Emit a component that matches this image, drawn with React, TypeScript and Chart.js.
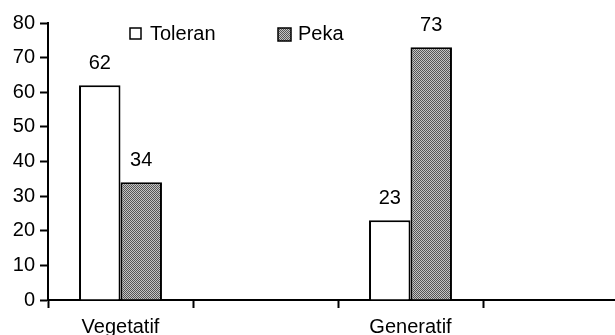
import React, { useEffect, useRef } from "react";
import { Chart, registerables } from "chart.js";

Chart.register(...registerables);

const categories = ["Vegetatif", "", "Generatif", ""];
const seriesNames = ["Toleran", "Peka"];
const toleranValues = [62, null, 23, null];
const pekaValues = [34, null, 73, null];
const yTicks = [0, 10, 20, 30, 40, 50, 60, 70, 80];

const FONT = "'Liberation Sans', Arial, sans-serif";
const FSIZE = 20;

function makePattern(): CanvasPattern | string {
  const c = document.createElement("canvas");
  c.width = 2;
  c.height = 2;
  const g = c.getContext("2d");
  if (!g) return "#888";
  g.fillStyle = "#c4c4c4";
  g.fillRect(0, 0, 2, 2);
  g.fillStyle = "#555555";
  g.fillRect(0, 0, 1, 1);
  g.fillRect(1, 1, 1, 1);
  const p = g.createPattern(c, "repeat");
  return p || "#888";
}

const valueLabels = {
  id: "valueLabels",
  afterDatasetsDraw(chart: any) {
    const ctx = chart.ctx;
    ctx.save();
    ctx.fillStyle = "#000";
    ctx.font = `${FSIZE}px ${FONT}`;
    ctx.textAlign = "center";
    ctx.textBaseline = "alphabetic";
    chart.data.datasets.forEach((ds: any, i: number) => {
      const meta = chart.getDatasetMeta(i);
      meta.data.forEach((el: any, j: number) => {
        const v = ds.data[j];
        if (v === null || v === undefined) return;
        ctx.fillText(String(v), el.x, el.y - 16);
      });
    });
    ctx.restore();
  },
};

const customLegend = {
  id: "customLegend",
  afterDraw(chart: any) {
    const ctx = chart.ctx;
    const items = [
      { box: [130, 28, 11, 11], textX: 150 },
      { box: [278, 28, 13, 13], textX: 298 },
    ];
    ctx.save();
    ctx.font = `${FSIZE}px ${FONT}`;
    ctx.textBaseline = "alphabetic";
    ctx.textAlign = "left";
    chart.data.datasets.forEach((ds: any, i: number) => {
      const it = items[i];
      if (!it) return;
      const [x, y, w, h] = it.box;
      ctx.fillStyle = ds.backgroundColor;
      ctx.fillRect(x, y, w, h);
      ctx.strokeStyle = "#000";
      ctx.lineWidth = 1.5;
      ctx.strokeRect(x, y, w, h);
      ctx.fillStyle = "#000";
      ctx.fillText(ds.label, it.textX, 40);
    });
    ctx.restore();
  },
};

export default function App() {
  const ref = useRef<HTMLCanvasElement | null>(null);

  useEffect(() => {
    const canvas = ref.current;
    if (!canvas) return;
    const pattern = makePattern();
    const chart = new Chart(canvas, {
      type: "bar",
      data: {
        labels: categories,
        datasets: [
          {
            label: seriesNames[0],
            data: toleranValues,
            backgroundColor: "#ffffff",
            borderColor: "#000000",
            borderWidth: 2,
            categoryPercentage: 0.572,
            barPercentage: 1,
          },
          {
            label: seriesNames[1],
            data: pekaValues,
            backgroundColor: pattern as any,
            borderColor: "#000000",
            borderWidth: 2,
            categoryPercentage: 0.572,
            barPercentage: 1,
          },
        ],
      },
      options: {
        responsive: false,
        animation: false,
        devicePixelRatio: 1,
        layout: { padding: { top: 23, left: 0, right: 0, bottom: 0 } },
        plugins: {
          legend: { display: false },
          tooltip: { enabled: false },
        },
        scales: {
          x: {
            grid: {
              offset: true,
              drawOnChartArea: false,
              drawTicks: true,
              tickLength: 8,
              tickWidth: 2,
              tickColor: "#000",
            },
            border: { display: true, color: "#000", width: 2 },
            ticks: {
              color: "#000",
              font: { family: FONT, size: FSIZE },
              padding: 7,
              maxRotation: 0,
              autoSkip: false,
            },
            afterFit: (scale: any) => {
              scale.height = 35;
            },
          },
          y: {
            min: 0,
            max: 80,
            afterBuildTicks: (scale: any) => {
              scale.ticks = yTicks.map((v) => ({ value: v }));
            },
            grid: {
              drawOnChartArea: false,
              drawTicks: true,
              tickLength: 8,
              tickWidth: 2,
              tickColor: "#000",
            },
            border: { display: true, color: "#000", width: 2 },
            ticks: {
              color: "#000",
              font: { family: FONT, size: FSIZE },
              padding: 5,
            },
            afterFit: (scale: any) => {
              scale.width = 48;
            },
          },
        },
      },
      plugins: [valueLabels, customLegend],
    });
    return () => chart.destroy();
  }, []);

  return (
    <div
      style={{
        position: "absolute",
        left: 0,
        top: 0,
        width: 615,
        height: 335,
        overflow: "hidden",
        background: "#fff",
      }}
    >
      <canvas ref={ref} width={628} height={335} style={{ display: "block" }} />
    </div>
  );
}
